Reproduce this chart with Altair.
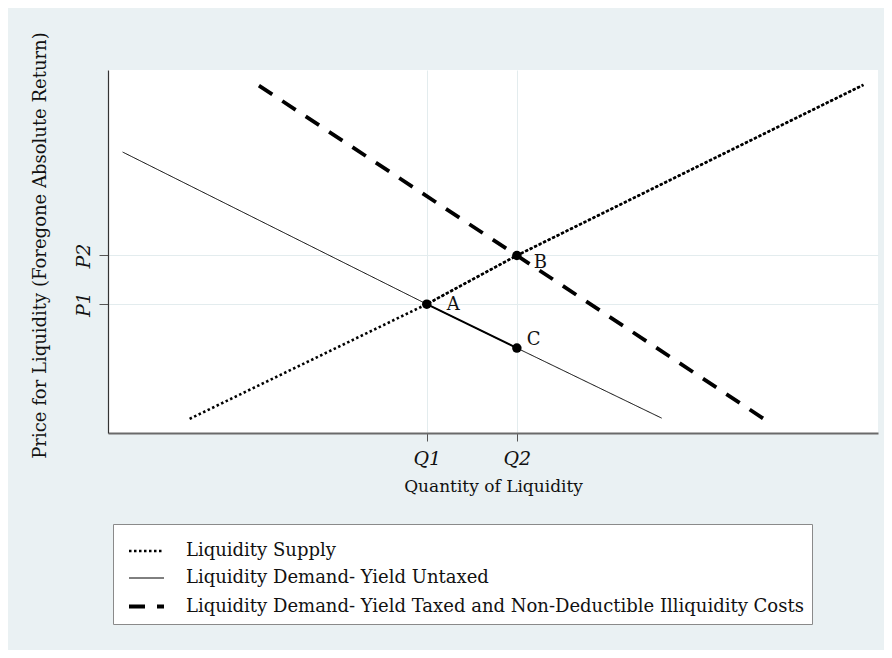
import altair as alt
import pandas as pd

series = [
    "Liquidity Supply",
    "Liquidity Demand- Yield Untaxed",
    "Liquidity Demand- Yield Taxed and Non-Deductible Illiquidity Costs",
]
supply_x = [1.06, 4.14, 5.31, 9.81]
supply_y = [0.39, 3.55, 4.89, 9.59]
untaxed_x = [0.19, 4.14, 5.31, 7.19]
untaxed_y = [7.74, 3.55, 2.34, 0.41]
taxed_x = [1.96, 5.31, 8.51]
taxed_y = [9.57, 4.89, 0.40]

point_labels = ["A", "B", "C"]
point_x = [4.14, 5.31, 5.31]
point_y = [3.55, 4.89, 2.34]

x_ticks = [4.14, 5.31]
x_tick_labels = ["Q1", "Q2"]
y_ticks = [3.55, 4.89]
y_tick_labels = ["P1", "P2"]

FONT = "DejaVu Serif"
BG = "#eaf1f3"

rows = []
for s, xs, ys in [(series[0], supply_x, supply_y), (series[1], untaxed_x, untaxed_y), (series[2], taxed_x, taxed_y)]:
    for i, (a, b) in enumerate(zip(xs, ys)):
        rows.append({"series": s, "x": a, "y": b, "i": i})
lines_df = pd.DataFrame(rows)

supply_upper = pd.DataFrame({"x": supply_x[1:], "y": supply_y[1:]})
untaxed_ac = pd.DataFrame({"x": untaxed_x[1:3], "y": untaxed_y[1:3]})
pts = pd.DataFrame({"label": point_labels, "x": point_x, "y": point_y})

xlab = "{" + ",".join(f"'{v}':'{l}'" for v, l in zip(x_ticks, x_tick_labels)) + "}"
ylab = "{" + ",".join(f"'{v}':'{l}'" for v, l in zip(y_ticks, y_tick_labels)) + "}"

xscale = alt.Scale(domain=[0, 10], nice=False, zero=False)
yscale = alt.Scale(domain=[0, 10], nice=False, zero=False)

xenc = alt.X(
    "x:Q", scale=xscale,
    axis=alt.Axis(
        values=x_ticks, labelExpr=f"{xlab}[datum.value] || ''",
        title="Quantity of Liquidity", grid=True, gridColor="#e3ecee",
        domainColor="#6a6a6a", domainWidth=2, tickColor="#555", tickSize=8,
        labelFont=FONT, labelFontSize=19, labelFontStyle="italic", labelPadding=8,
        labelColor="#111", titleFont=FONT, titleFontSize=17, titleFontWeight="normal",
        titleColor="#111", titlePadding=10,
    ),
)
yenc = alt.Y(
    "y:Q", scale=yscale,
    axis=alt.Axis(
        values=y_ticks, labelExpr=f"{ylab}[datum.value] || ''",
        title="Price for Liquidity (Foregone Absolute Return)", grid=True, gridColor="#e3ecee",
        domainColor="#333", domainWidth=1.2, tickColor="#555", tickSize=9,
        labelFont=FONT, labelFontSize=19, labelFontStyle="italic", labelAngle=270,
        labelAlign="center", labelBaseline="bottom", labelPadding=6, labelColor="#111",
        titleFont=FONT, titleFontSize=18, titleFontWeight="normal", titleColor="#111",
        titleAngle=270, titleX=-68, titleY=175, titleAlign="center", titleBaseline="middle",
    ),
)

legend = alt.Legend(
    title=None, orient="none", legendX=5, legendY=454, direction="vertical",
    fillColor="white", strokeColor="#8a8a8a", padding=8,
    symbolType="stroke", symbolSize=1225, symbolStrokeColor="black", symbolOffset=6,
    labelFont=FONT, labelFontSize=18, labelColor="#111", labelLimit=0,
    labelOffset=20, rowPadding=-7.5,
)

lines = alt.Chart(lines_df).mark_line(color="black").encode(
    x=xenc, y=yenc,
    detail="series:N",
    order="i:Q",
    strokeDash=alt.StrokeDash("series:N", scale=alt.Scale(type="ordinal", domain=series, range=[[2.5, 2.5], [1, 0], [16, 12]]), legend=legend, sort=series),
    strokeWidth=alt.StrokeWidth("series:N", scale=alt.Scale(type="ordinal", domain=series, range=[2.6, 1, 3.8]), legend=legend, sort=series),
)

upper = alt.Chart(supply_upper).mark_line(color="black", strokeDash=[2.5, 2.5], strokeDashOffset=2.5, strokeWidth=2.4).encode(
    x=alt.X("x:Q", scale=xscale), y=alt.Y("y:Q", scale=yscale)
)
ac = alt.Chart(untaxed_ac).mark_line(color="black", strokeWidth=2).encode(
    x=alt.X("x:Q", scale=xscale), y=alt.Y("y:Q", scale=yscale)
)

points = alt.Chart(pts).mark_circle(color="black", opacity=1, size=90).encode(
    x=alt.X("x:Q", scale=xscale), y=alt.Y("y:Q", scale=yscale)
)

base_text = alt.Chart(pts)
lblA = base_text.transform_filter(alt.datum.label == "A").mark_text(font=FONT, fontSize=18, align="left", dx=20, dy=1, color="#111").encode(
    x=alt.X("x:Q", scale=xscale), y=alt.Y("y:Q", scale=yscale), text="label:N")
lblB = base_text.transform_filter(alt.datum.label == "B").mark_text(font=FONT, fontSize=18, align="left", dx=17, dy=8, color="#111").encode(
    x=alt.X("x:Q", scale=xscale), y=alt.Y("y:Q", scale=yscale), text="label:N")
lblC = base_text.transform_filter(alt.datum.label == "C").mark_text(font=FONT, fontSize=18, align="left", dx=10, dy=-8, color="#111").encode(
    x=alt.X("x:Q", scale=xscale), y=alt.Y("y:Q", scale=yscale), text="label:N")

chart = alt.layer(lines, upper, ac, points, lblA, lblB, lblC).properties(
    width=770, height=363,
    autosize=alt.AutoSizeParams(type="none"),
    padding={"left": 100, "top": 62, "right": 6, "bottom": 217},
    background=BG,
).configure_view(fill="white", stroke=None)

chart.save("out.html", embed_options={"renderer": "svg", "actions": False})
